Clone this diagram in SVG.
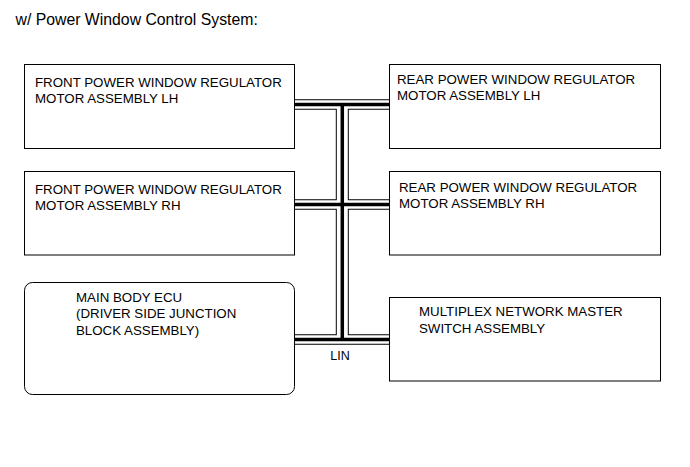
<svg xmlns="http://www.w3.org/2000/svg" width="690" height="467" viewBox="0 0 690 467">
<style>
.box{fill:#fff;stroke:#000;stroke-width:1}
.t{font-family:"Liberation Sans",Arial,sans-serif;font-size:13.3px;fill:#000}
.title{font-family:"Liberation Sans",Arial,sans-serif;font-size:15.8px;fill:#000}
.o{fill:none;stroke:#000;stroke-linecap:butt;stroke-linejoin:miter}
.w{fill:none;stroke:#fff;stroke-linecap:butt}
.c{fill:none;stroke:#000;stroke-width:3.5;stroke-linecap:butt}
.lbl{font-family:"Liberation Sans",Arial,sans-serif;font-size:12.5px;fill:#000}
</style>
<rect width="690" height="467" fill="#fff"/>
<text class="title" x="15.5" y="25">w/ Power Window Control System:</text>
<g id="connectors">
  <g id="bus-outer">
    <path class="o" stroke-width="10.5" d="M294.5 104.5H389.5M294.5 204.5H389.5M294.5 339.5H389.5"/>
    <path class="o" stroke-width="13" d="M342.3 104.5V339.5"/>
  </g>
  <g id="bus-gap">
    <path class="w" stroke-width="8.5" d="M294.5 104.5H389.5M294.5 204.5H389.5M294.5 339.5H389.5"/>
    <path class="w" stroke-width="11" d="M342.3 104.5V339.5"/>
  </g>
  <g id="bus-core">
    <path class="c" d="M294.5 104.5H389.5M294.5 204.5H389.5M294.5 339.5H389.5M342.3 104.5V339.5"/>
  </g>
  <text id="lin-label" class="lbl" x="340" y="360" text-anchor="middle">LIN</text>
</g>
<g id="front-lh">
  <rect class="box" x="24.5" y="64.5" width="270" height="84"/>
  <text class="t" x="35" y="86.5">FRONT POWER WINDOW REGULATOR</text>
  <text class="t" x="35" y="102.5">MOTOR ASSEMBLY LH</text>
</g>
<g id="rear-lh">
  <rect class="box" x="389.5" y="64.5" width="271" height="84"/>
  <text class="t" x="397" y="84">REAR POWER WINDOW REGULATOR</text>
  <text class="t" x="397" y="100">MOTOR ASSEMBLY LH</text>
</g>
<g id="front-rh">
  <rect class="box" x="24.5" y="171.5" width="270" height="83.5"/>
  <text class="t" x="35" y="193.5">FRONT POWER WINDOW REGULATOR</text>
  <text class="t" x="35" y="210">MOTOR ASSEMBLY RH</text>
</g>
<g id="rear-rh">
  <rect class="box" x="389.5" y="171.5" width="271" height="83.5"/>
  <text class="t" x="399" y="191.5">REAR POWER WINDOW REGULATOR</text>
  <text class="t" x="399" y="208">MOTOR ASSEMBLY RH</text>
</g>
<g id="main-body-ecu">
  <rect class="box" x="24.5" y="282.5" width="270" height="112" rx="8" ry="8"/>
  <text class="t" x="76" y="301.5">MAIN BODY ECU</text>
  <text class="t" x="76" y="318">(DRIVER SIDE JUNCTION</text>
  <text class="t" x="76" y="334.5">BLOCK ASSEMBLY)</text>
</g>
<g id="master-switch">
  <rect class="box" x="389.5" y="297.5" width="271" height="83.5"/>
  <text class="t" x="419" y="316">MULTIPLEX NETWORK MASTER</text>
  <text class="t" x="419" y="332.5">SWITCH ASSEMBLY</text>
</g>
</svg>
